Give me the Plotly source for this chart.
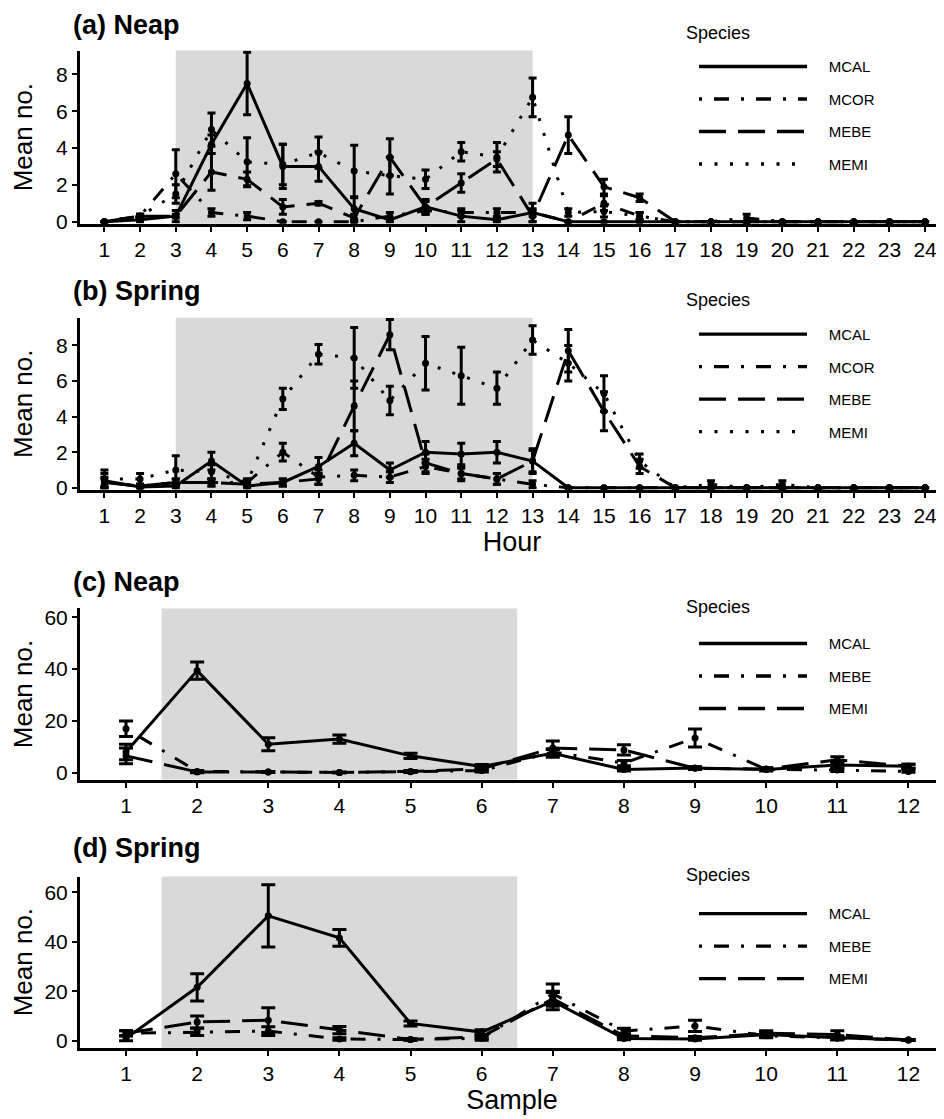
import plotly.graph_objects as go

# ---------------- data ----------------
hours = list(range(1, 25))
samples = list(range(1, 13))
hour_ticks = [str(h) for h in hours]
sample_ticks = [str(s) for s in samples]
species_ab = ["MCAL", "MCOR", "MEBE", "MEMI"]
species_cd = ["MCAL", "MEBE", "MEMI"]
shade_hours = [3, 13]
shade_samples = [1.5, 6.5]

# (a) Neap, hourly
a_MCAL = [0, 0.1, 0.3, 4.2, 7.5, 3.0, 3.0, 0.7, 0.1, 0.8, 0.3, 0.1, 0.5, 0, 0, 0, 0, 0, 0, 0, 0, 0, 0, 0]
a_MCAL_se = [0, 0.1, 0.3, 0.5, 1.7, 1.2, 0.8, 0.6, 0.1, 0.4, 0.3, 0.1, 0.5, 0, 0, 0, 0, 0, 0, 0, 0, 0, 0, 0]
a_MCOR = [0, 0.3, 2.6, 0.5, 0.3, 0, 0, 0, 0.3, 0.6, 0.5, 0.5, 0.5, 0, 1.0, 0.3, 0, 0, 0.2, 0, 0, 0, 0, 0]
a_MCOR_se = [0, 0.1, 1.3, 0.2, 0.2, 0, 0, 0, 0.2, 0.2, 0.2, 0.2, 0.2, 0, 0.4, 0.2, 0, 0, 0.2, 0, 0, 0, 0, 0]
a_MEBE = [0, 0.3, 0.3, 2.7, 2.3, 0.8, 1.0, 0.2, 3.5, 0.8, 2.1, 3.4, 0.3, 4.7, 1.9, 1.3, 0, 0, 0, 0, 0, 0, 0, 0]
a_MEBE_se = [0, 0.1, 0.1, 1.0, 0.4, 0.4, 0.1, 0.2, 1.0, 0.3, 0.5, 0.4, 0.3, 1.0, 0.4, 0.2, 0, 0, 0, 0, 0, 0, 0, 0]
a_MEMI = [0, 0.3, 1.5, 5.0, 3.25, 3.1, 3.75, 2.75, 2.5, 2.3, 3.8, 3.5, 6.75, 0.5, 0.55, 0.3, 0, 0, 0, 0, 0, 0, 0, 0]
a_MEMI_se = [0, 0.1, 0.5, 0.9, 1.3, 1.1, 0.85, 1.4, 1.0, 0.5, 0.5, 0.8, 1.05, 0.2, 0.3, 0.2, 0, 0, 0, 0, 0, 0, 0, 0]

# (b) Spring, hourly
b_MCAL = [0.4, 0.05, 0.1, 1.5, 0.1, 0.3, 1.2, 2.5, 1.0, 2.0, 1.9, 2.0, 1.5, 0, 0, 0, 0, 0, 0, 0, 0, 0, 0, 0]
b_MCAL_se = [0.4, 0.05, 0.1, 0.5, 0.1, 0.2, 0.5, 0.7, 0.4, 0.6, 0.6, 0.6, 0.7, 0, 0, 0, 0, 0, 0, 0, 0, 0, 0, 0]
b_MCOR = [0.3, 0.1, 0.3, 0.3, 0.3, 2.0, 0.6, 0.7, 0.6, 1.2, 0.8, 0.5, 0.2, 0, 0, 0, 0, 0, 0, 0, 0, 0, 0, 0]
b_MCOR_se = [0.3, 0.1, 0.2, 0.2, 0.2, 0.5, 0.4, 0.3, 0.3, 0.4, 0.3, 0.3, 0.2, 0, 0, 0, 0, 0, 0, 0, 0, 0, 0, 0]
b_MEBE = [0.3, 0.1, 0.3, 0.3, 0.2, 0.3, 0.5, 4.6, 8.6, 1.4, 0.8, 0.5, 1.5, 7.7, 4.3, 1.2, 0, 0, 0, 0, 0, 0, 0, 0]
b_MEBE_se = [0.2, 0.1, 0.2, 0.2, 0.1, 0.2, 0.3, 1.4, 0.85, 0.5, 0.4, 0.3, 0.6, 1.2, 1.1, 0.4, 0, 0, 0, 0, 0, 0, 0, 0]
b_MEMI = [0.5, 0.5, 1.0, 0.9, 0.3, 5.0, 7.5, 7.3, 4.9, 7.0, 6.3, 5.6, 8.3, 7.0, 5.3, 1.5, 0, 0.2, 0, 0.2, 0, 0, 0, 0]
b_MEMI_se = [0.5, 0.3, 0.8, 0.4, 0.2, 0.6, 0.55, 1.7, 0.8, 1.5, 1.6, 0.9, 0.8, 1.0, 1.0, 0.4, 0, 0.2, 0, 0.2, 0, 0, 0, 0]

# (c) Neap, per sample
c_MCAL = [8.0, 39.4, 11.0, 13.0, 6.5, 2.4, 7.5, 1.2, 1.8, 1.2, 3.0, 2.5]
c_MCAL_se = [3.0, 3.3, 2.5, 1.6, 1.0, 0.8, 1.5, 0.5, 0.5, 0.5, 1.2, 0.8]
c_MEBE = [17.0, 0.5, 0.3, 0.1, 0.4, 0.8, 8.0, 3.7, 13.4, 1.3, 1.0, 0.5]
c_MEBE_se = [3.0, 0.3, 0.2, 0.1, 0.3, 0.5, 1.2, 1.0, 3.5, 0.5, 0.5, 0.3]
c_MEMI = [6.5, 0.3, 0.3, 0.1, 0.5, 1.5, 9.5, 8.8, 1.7, 1.4, 5.0, 2.5]
c_MEMI_se = [3.0, 0.3, 0.2, 0.1, 0.3, 0.8, 2.7, 2.0, 0.5, 0.5, 1.2, 0.8]

# (d) Spring, per sample
d_MCAL = [1.0, 21.6, 50.5, 41.6, 7.0, 3.5, 16.0, 0.9, 0.7, 2.5, 1.2, 0.3]
d_MCAL_se = [1.0, 5.5, 12.6, 3.4, 1.0, 1.0, 3.5, 0.5, 0.5, 1.0, 0.8, 0.2]
d_MEBE = [3.0, 3.6, 3.9, 0.7, 0.5, 1.0, 19.0, 3.9, 6.0, 2.0, 1.0, 0.3]
d_MEBE_se = [1.0, 1.5, 1.8, 0.5, 0.3, 0.8, 4.0, 1.2, 2.3, 0.8, 0.6, 0.2]
d_MEMI = [3.0, 7.6, 8.3, 4.3, 0.5, 1.6, 17.0, 2.0, 1.2, 3.0, 2.5, 0.3]
d_MEMI_se = [1.0, 2.4, 5.0, 1.5, 0.3, 0.8, 3.0, 0.8, 0.5, 1.0, 1.5, 0.2]

# ---------------- styling ----------------
OFF = 8                      # page body margin of the browser
W, H = 944 - OFF, 1119 - OFF  # figure size so it ends at the window edge
FONT = "Liberation Sans, Arial, sans-serif"
DOTDASH = "3px,12px,15px,12px"
LONGDASH = "27px,12px"
DOTTED = "3px,12.5px"
dash_ab = {"MCAL": "solid", "MCOR": DOTDASH, "MEBE": LONGDASH, "MEMI": DOTTED}
dash_cd = {"MCAL": "solid", "MEBE": DOTDASH, "MEMI": LONGDASH}


def fx(p):
    return (p - OFF) / W


def fy(p):
    return 1 - (p - OFF) / H


panels = [
    dict(key="", title="<b>(a) Neap</b>", x=hours, ticks=hour_ticks, shade=shade_hours,
         species=species_ab, dash=dash_ab,
         series={"MCAL": (a_MCAL, a_MCAL_se), "MCOR": (a_MCOR, a_MCOR_se),
                 "MEBE": (a_MEBE, a_MEBE_se), "MEMI": (a_MEMI, a_MEMI_se)},
         top=48, bottom=223, yrange=[-0.11, 9.29], yticks=[0, 2, 4, 6, 8], xrange=[0.316, 24.53],
         xtitle="", title_y=25, spec_y=32, item_y=63.7, cap=4, standoff=20),
    dict(key="2", title="<b>(b) Spring</b>", x=hours, ticks=hour_ticks, shade=shade_hours,
         species=species_ab, dash=dash_ab,
         series={"MCAL": (b_MCAL, b_MCAL_se), "MCOR": (b_MCOR, b_MCOR_se),
                 "MEBE": (b_MEBE, b_MEBE_se), "MEMI": (b_MEMI, b_MEMI_se)},
         top=318, bottom=492, yrange=[-0.11, 9.56], yticks=[0, 2, 4, 6, 8], xrange=[0.316, 24.53],
         xtitle="Hour", title_y=294, spec_y=302, item_y=334.3, cap=4, standoff=20),
    dict(key="3", title="<b>(c) Neap</b>", x=samples, ticks=sample_ticks, shade=shade_samples,
         species=species_cd, dash=dash_cd,
         series={"MCAL": (c_MCAL, c_MCAL_se), "MEBE": (c_MEBE, c_MEBE_se), "MEMI": (c_MEMI, c_MEMI_se)},
         top=612, bottom=785, yrange=[-2.67, 63.4], yticks=[0, 20, 40, 60], xrange=[0.353, 12.5],
         xtitle="", title_y=588, spec_y=612.7, item_y=647, cap=7, standoff=6),
    dict(key="4", title="<b>(d) Spring</b>", x=samples, ticks=sample_ticks, shade=shade_samples,
         species=species_cd, dash=dash_cd,
         series={"MCAL": (d_MCAL, d_MCAL_se), "MEBE": (d_MEBE, d_MEBE_se), "MEMI": (d_MEMI, d_MEMI_se)},
         top=883, bottom=1056, yrange=[-2.8, 66.4], yticks=[0, 20, 40, 60], xrange=[0.353, 12.5],
         xtitle="Sample", title_y=857, spec_y=883.7, item_y=920, cap=7, standoff=6),
]

fig = go.Figure()
layout = dict(
    width=W, height=H, margin=dict(l=0, r=0, t=0, b=0),
    paper_bgcolor="white", plot_bgcolor="white",
    font=dict(family=FONT, color="black"),
    shapes=[], annotations=[],
)

for i, p in enumerate(panels):
    k = p["key"]
    xa, ya = "x" + k, "y" + k
    leg = "legend" + k
    for sp in p["species"]:
        vals, se = p["series"][sp]
        fig.add_trace(go.Scatter(
            x=p["x"], y=vals, mode="lines+markers", xaxis=xa, yaxis=ya,
            line=dict(color="black", width=3, dash=p["dash"][sp]),
            marker=dict(color="black", size=7),
            error_y=dict(type="data", array=se, visible=True, color="black",
                         thickness=3, width=p["cap"]),
            showlegend=False, name=sp,
        ))
    for sp in p["species"]:
        fig.add_trace(go.Scatter(
            x=[None], y=[None], mode="lines", xaxis=xa, yaxis=ya,
            line=dict(color="black", width=3.3, dash=p["dash"][sp]),
            name="\u00a0\u00a0\u00a0\u00a0" + sp, legend=leg, legendgroup=leg + sp,
            showlegend=True,
        ))
    axis_common = dict(showline=True, linewidth=3, linecolor="black", ticks="outside",
                       ticklen=5, tickwidth=2, tickcolor="black", showgrid=False,
                       zeroline=False, tickfont=dict(size=21, color="black", family=FONT))
    layout["xaxis" + k] = dict(
        domain=[fx(80), 1.0], range=p["xrange"], anchor=ya,
        tickmode="array", tickvals=p["x"], ticktext=p["ticks"],
        title=dict(text=p["xtitle"], font=dict(size=27), standoff=5), **axis_common)
    layout["yaxis" + k] = dict(
        domain=[fy(p["bottom"]), fy(p["top"])], range=p["yrange"], anchor=xa,
        tickmode="array", tickvals=p["yticks"],
        title=dict(text="Mean no.", font=dict(size=26), standoff=p["standoff"]), **axis_common)
    layout["shapes"].append(dict(
        type="rect", xref=xa, yref=ya + " domain", x0=p["shade"][0], x1=p["shade"][1],
        y0=0, y1=1, fillcolor="#d9d9d9", line=dict(width=0), layer="below"))
    layout["annotations"].append(dict(
        text=p["title"], xref="paper", yref="paper", x=fx(71), y=fy(p["title_y"] - 3),
        xanchor="left", yanchor="middle", showarrow=False, font=dict(size=27, color="black")))
    layout["annotations"].append(dict(
        text="Species", xref="paper", yref="paper", x=fx(684), y=fy(p["spec_y"] - 2),
        xanchor="left", yanchor="middle", showarrow=False, font=dict(size=18, color="black")))
    layout[leg] = dict(
        x=fx(694), y=fy(p["item_y"] - 16),
        xanchor="left", yanchor="top", bgcolor="rgba(0,0,0,0)", borderwidth=0,
        font=dict(size=15, color="black"), itemwidth=108, tracegroupgap=10,
    )

fig.update_layout(**layout)
fig.write_html("out.html")
